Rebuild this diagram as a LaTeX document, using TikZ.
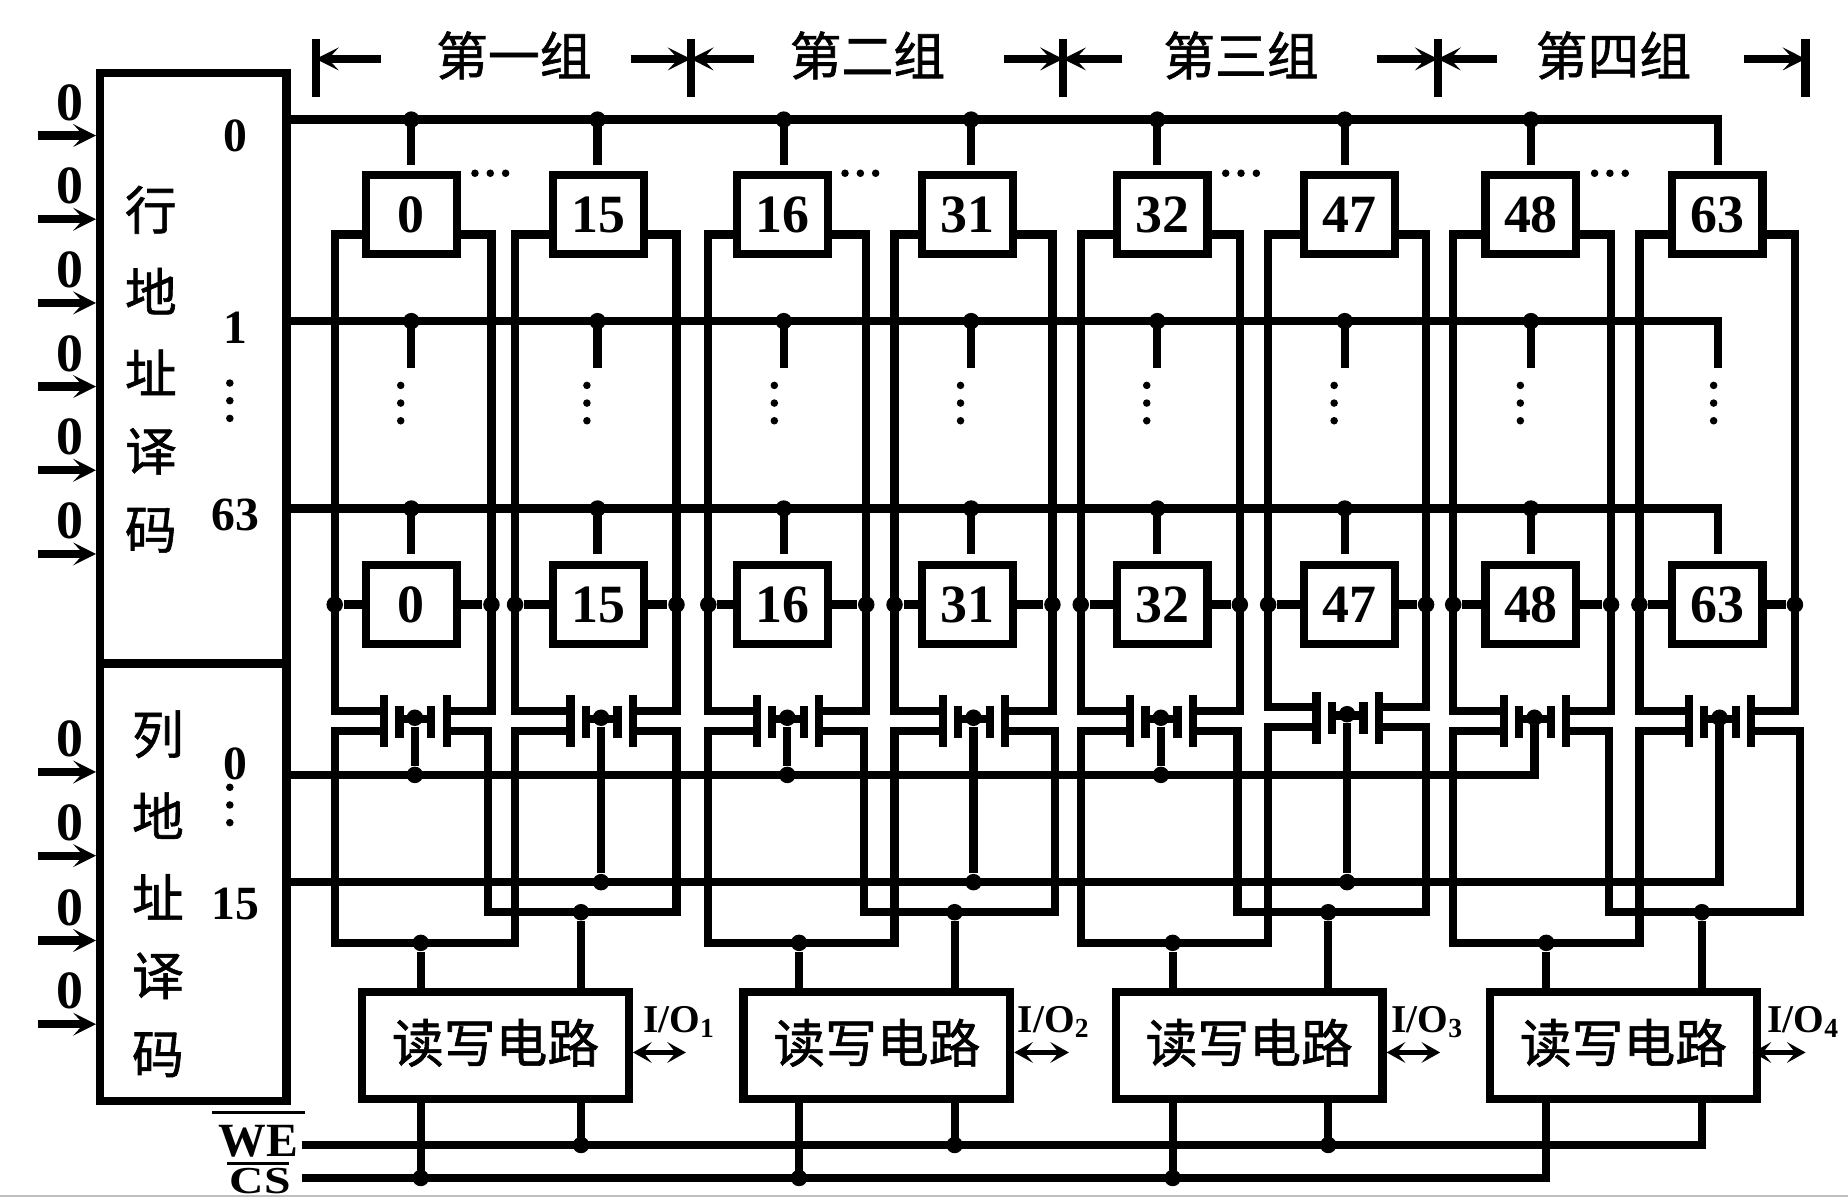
\documentclass[tikz,border=0pt]{standalone}
\usepackage{fontspec}
\setmainfont{Liberation Serif}
\newfontfamily\cjkfont[FakeBold=1.2]{Noto Sans CJK SC}
\usetikzlibrary{arrows.meta,calc}
\def\vdotsat(#1,#2){\fill (#1,#2) circle (3.2); \fill (#1,#2+15) circle (3.2); \fill (#1,#2+30) circle (3.2);}
\def\hdotsat(#1,#2){\fill (#1,#2) circle (3.2); \fill (#1+13,#2) circle (3.2); \fill (#1+26,#2) circle (3.2);}
\tikzset{
	wire/.style={line width=0.07cm, line join=miter},
	sigarrow/.style={line width=0.07cm, -{Stealth[length=5.5pt,width=5.5pt,inset=2.5pt]}},
	bothway/.style={line width=0.05cm, {Stealth[length=4.5pt,width=5pt,inset=2pt]}-{Stealth[length=4.5pt,width=5pt,inset=2pt]}},
	junc/.style={circle, fill=black, inner sep=0pt, minimum size=0.14cm},
	cellbox/.style={draw, wire, minimum width=0.77cm, minimum height=0.67cm, inner sep=0pt, num},
	rwbox/.style={draw, wire, minimum width=2.26cm, minimum height=0.91cm, inner sep=0pt, han},
	decbox/.style={draw, wire, minimum width=1.58cm, inner sep=0pt},
	num/.style={font=\bfseries\fontsize{13}{13}\selectfont, inner sep=0pt},
	decnum/.style={font=\bfseries\fontsize{11.5}{12}\selectfont, inner sep=0pt},
	han/.style={font=\cjkfont\fontsize{12.5}{12.5}\selectfont, inner sep=0pt},
	iolabel/.style={font=\bfseries\fontsize{9.5}{10}\selectfont, inner sep=0pt},
	ctrl/.style={font=\bfseries\fontsize{11.5}{12}\selectfont, inner sep=0pt}
}

\begin{document}
\begin{tikzpicture}[x=0.01cm, y=-0.01cm]
	\useasboundingbox (0,0) rectangle (1568,1015.6);
	%%%%% DECODERS %%%%%
	\node[decbox, minimum height=5.01cm] (rowdec) at (164,312.5) {};
	\node[decbox, minimum height=3.71cm] (coldec) at (164,748.5) {};
	\foreach \n/\c/\y in {1/行/178,2/地/247,3/址/316,4/译/383,5/码/450}
		\node[han] (rowch\n) at (128,\y) {\c};
	\foreach \n/\c/\y in {1/列/623,2/地/692,3/址/761,4/译/828,5/码/895}
		\node[han] (colch\n) at (134,\y) {\c};
	\node[decnum] (rown0) at (200,115) {0};
	\node[decnum] (rown1) at (200,278) {1};
	\node[decnum] (rown63) at (200,437) {63};
	\node[decnum] (coln0) at (200,648) {0};
	\node[decnum] (coln15) at (200,767) {15};
	\vdotsat(195,325)
	\vdotsat(195,668)
	\foreach \y in {115,186,257,328,399,470,655,726,798,869}{
		\node[num] (addr\y) at (59,\y-28) {0};
		\coordinate (inp\y) at (32,\y);
		\draw[sigarrow] (inp\y) -- (inp\y -| rowdec.west);
	}
	%%%%% GROUP TITLES %%%%%
	\foreach \t/\x in {1/268,2/586,3/902,4/1220,5/1532}{
		\coordinate (tick\t) at (\x,50);
		\draw[wire] (\x,33) -- (\x,82);
	}
	\foreach \t/\a in {1/323,2/535,2/640,3/852,3/952,4/1168,4/1270,5/1480}
		\draw[sigarrow] (\a,50) -- (tick\t);
	\node[han] (title1) at (436,47) {第一组};
	\node[han] (title2) at (736,47) {第二组};
	\node[han] (title3) at (1053,47) {第三组};
	\node[han] (title4) at (1369,47) {第四组};
	%%%%% CELLS %%%%%
	\foreach \i/\cx/\sx/\lx/\rx/\tx/\rr/\ty/\lab in {1/349/349/284/417/352/414/0/0, 2/508/507/437/574/510/574/0/15,
		3/664/665/601/735/668/733/0/16, 4/821/824/759/893/826/895/0/31, 5/986/982/917/1052/985/1050/0/32,
		6/1145/1141/1076/1210/1143/1210/-3/47, 7/1299/1299/1233/1367/1302/1365/0/48, 8/1457/1458/1391/1523/1459/1527/0/63}{
		\node[cellbox] (tcell\i) at (\cx,182) {\lab};
		\node[cellbox] (bcell\i) at (\cx,513) {\lab};
		\coordinate (wordA\i) at (\sx,101.5);
		\coordinate (wordB\i) at (\sx,272.5);
		\coordinate (wordC\i) at (\sx,431.5);
		\draw[wire] (wordA\i) -- (\sx,140);
		\draw[wire] (wordB\i) -- (\sx,312);
		\draw[wire] (wordC\i) -- (\sx,470);
		\coordinate (railL\i) at (\lx,199);
		\coordinate (railR\i) at (\rx,199);
		\coordinate (upL\i) at (\lx,603+\ty);
		\coordinate (upR\i) at (\rx,603+\ty);
		\coordinate (plateL\i) at (\tx-26,603+\ty);
		\coordinate (plateR\i) at (\tx+27,603+\ty);
		\coordinate (lowL\i) at (\lx,620+\ty);
		\coordinate (lowR\i) at (\rr,620+\ty);
		\coordinate (plL\i) at (\tx-26,620+\ty);
		\coordinate (plR\i) at (\tx+27,620+\ty);
		\coordinate (gate\i) at (\tx,609+\ty);
		\draw[wire] (tcell\i.west |- railL\i) -- (railL\i) -- (upL\i) -- (plateL\i);
		\draw[wire] (tcell\i.east |- railR\i) -- (railR\i) -- (upR\i) -- (plateR\i);
		\node[junc] (jl\i) at (railL\i |- bcell\i) {};
		\node[junc] (jr\i) at (railR\i |- bcell\i) {};
		\draw[wire] (bcell\i) -- (jl\i);
		\draw[wire] (bcell\i) -- (jr\i);
		% pass transistor
		\draw[wire] (\tx-26,590+\ty) -- (\tx-26,634+\ty);
		\draw[wire] (\tx+27,590+\ty) -- (\tx+27,634+\ty);
		\draw[wire] (\tx-13,599+\ty) -- (\tx-13,626+\ty);
		\draw[wire] (\tx+14,599+\ty) -- (\tx+14,626+\ty);
		\draw[wire] (\tx-13,610+\ty) -- (\tx+14,610+\ty);
		\node[junc] (jg\i) at (gate\i) {};
	}
	\foreach \x in {340,498,657,815,973,1132,1290,1454}{
		\vdotsat(\x,327)
	}
	\hdotsat(403,147)
	\hdotsat(717,147)
	\hdotsat(1040,147)
	\hdotsat(1353,147)
	%%%%% ROW WIRES %%%%%
	\draw[wire] (wordA1 -| rowdec.east) -- (wordA8) -- (1458,140);
	\draw[wire] (wordB1 -| rowdec.east) -- (wordB8) -- (1458,312);
	\draw[wire] (wordC1 -| rowdec.east) -- (wordC8) -- (1458,470);
	\foreach \i in {1,...,7}{
		\node[junc] (ja\i) at (wordA\i) {};
		\node[junc] (jb\i) at (wordB\i) {};
		\node[junc] (jc\i) at (wordC\i) {};
	}
	%%%%% COLUMN WIRES %%%%%
	\coordinate (csel0) at (1302,657.5);
	\coordinate (csel15) at (1459,748.5);
	\draw[wire] (csel0 -| coldec.east) -- (csel0) -- (gate7);
	\draw[wire] (csel15 -| coldec.east) -- (csel15) -- (gate8);
	\foreach \i in {1,3,5}{
		\node[junc] (js\i) at (gate\i |- csel0) {};
		\draw[wire] (jg\i) -- (js\i);
	}
	\foreach \i in {2,4,6}{
		\node[junc] (js\i) at (gate\i |- csel15) {};
		\draw[wire] (jg\i) -- (js\i);
	}
	%%%%% READ WRITE CIRCUITS %%%%%
	\coordinate (weline) at (256,971.5);
	\coordinate (csline) at (256,999.5);
	\foreach \a/\b/\n/\dl/\dr/\cx/\lx in {1/2/1/357/493/420.5/545, 3/4/2/678/810/744/863, 5/6/3/995/1127/1060/1180, 7/8/4/1312/1444/1377.5/1499}{
		\node[rwbox] (rw\n) at (\cx,887) {\raisebox{2.3pt}{读写电路}};
		\coordinate (busL\n) at (\dl,800);
		\coordinate (busR\n) at (\dr,774);
		\draw[wire] (plL\a) -- (lowL\a) -- (lowL\a |- busL\n) -- (lowL\b |- busL\n) -- (lowL\b) -- (plL\b);
		\draw[wire] (plR\a) -- (lowR\a) -- (lowR\a |- busR\n) -- (lowR\b |- busR\n) -- (lowR\b) -- (plR\b);
		\node[junc] (jbl\n) at (busL\n) {};
		\node[junc] (jbr\n) at (busR\n) {};
		\draw[wire] (jbl\n) -- (busL\n |- rw\n.north);
		\draw[wire] (jbr\n) -- (busR\n |- rw\n.north);
		\draw[wire] (busL\n |- rw\n.south) -- (busL\n |- csline);
		\draw[wire] (busR\n |- rw\n.south) -- (busR\n |- weline);
		\node[iolabel, anchor=west] (io\n) at (\lx,867) {I/O\textsubscript{\n}};
	}
	\draw[bothway] (rw1.east |- 0,893) -- (582,893);
	\draw[bothway] (rw2.east |- 0,893) -- (907,893);
	\draw[bothway] (rw3.east |- 0,893) -- (1222,893);
	\draw[bothway] (1487,893) -- (1532,893);
	\draw[wire] (weline) -- (weline -| busR4) -- (busR4 |- rw4.south);
	\draw[wire] (csline) -- (csline -| busL4) -- (busL4 |- rw4.south);
	\foreach \n in {1,2,3}{
		\node[junc] (jwe\n) at (busR\n |- weline) {};
		\node[junc] (jcs\n) at (busL\n |- csline) {};
	}
	\node[ctrl] (we) at (219,968) {WE};
	\node[ctrl] (cs) at (221,1002.5) {\scalebox{1}[0.8]{CS}};
	\draw[line width=0.025cm] (180,944) -- (259,944);
	\draw[line width=0.025cm] (193,987) -- (245,987);
	\draw[draw=gray!50, line width=0.02cm] (0,1014.7) -- (1568,1014.7);
\end{tikzpicture}
\end{document}
